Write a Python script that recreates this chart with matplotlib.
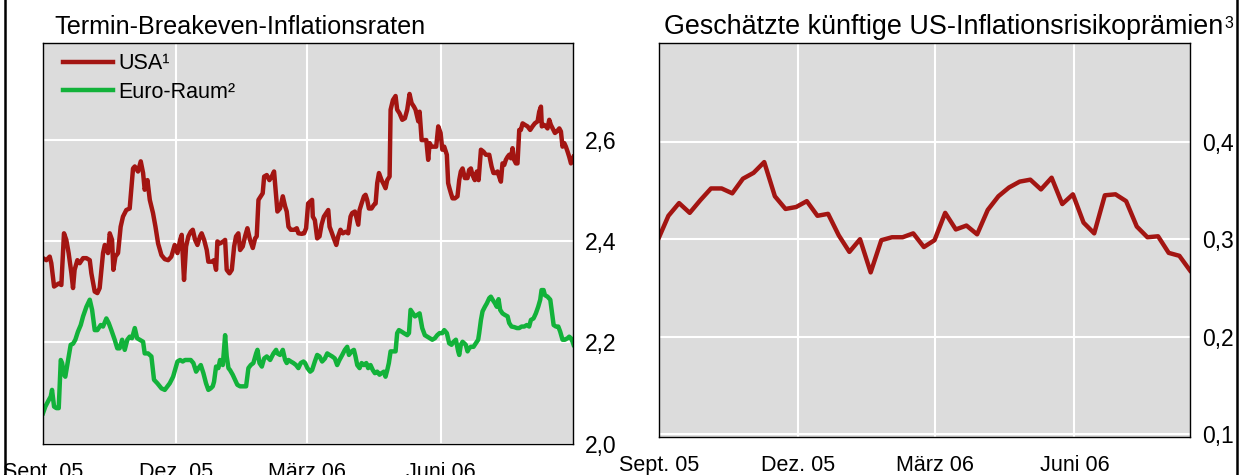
import pandas as pd
import matplotlib
matplotlib.use('Agg')
from matplotlib import pyplot as pl
from matplotlib.lines import Line2D

pl.rcParams['font.family'] = ['Liberation Sans', 'DejaVu Sans']

# Colours of the original
red = '#A31512'
green = '#12B23A'
panel = '#DCDCDC'

start = pd.Timestamp('2005-09-01')

# Left panel: forward breakeven inflation rates, days counted from 1 Sept 2005
usa_days = [
    0, 2.3, 4.6, 5.7, 7.6, 9.2, 10.8, 12.6, 14.4, 16.0, 17.6, 19.5, 20.6,
    21.7, 23.6, 25.2, 27.5, 29.8, 32.1, 33.2, 35.5, 37.3, 38.9, 41.2, 42.4,
    44.6, 45.8, 47.4, 48.3, 49.7, 51.5, 53.3, 54.9, 57.2, 59.5, 61.8, 63.0,
    65.2, 67.1, 68.7, 69.8, 71.7, 73.3, 75.5, 77.2, 79.0, 81.3, 83.6, 85.9,
    88.1, 90.4, 92.3, 94.1,
    95.2, 96.8, 98.2, 99.8, 101.4, 102.8, 104.4, 106.0, 107.8, 108.9, 110.6,
    112.4, 113.5, 115.8, 117.4, 118.8, 119.7, 121.5, 123.8, 125.0, 126.1,
    128.0, 129.6, 131.2, 132.5, 134.1, 135.3, 137.1, 138.7, 140.3, 142.1,
    144.0, 145.6, 146.7, 147.9, 149.5, 150.8, 151.8, 153.6, 155.4, 157.0,
    158.6, 160.0, 160.9, 162.7, 164.6, 166.2, 167.3, 168.5, 170.1, 172.4,
    174.2, 175.3, 177.6, 179.2, 180.6, 182.0, 184.7,
    185.2, 186.6, 188.2, 189.8, 191.2, 192.8, 194.4, 195.8, 196.7, 198.0,
    199.6, 201.3, 202.6, 204.2, 205.8, 207.7, 209.5, 211.1, 212.2, 214.1,
    215.0, 216.4, 217.3, 218.7, 220.3, 221.4, 222.5, 223.7, 225.5, 227.1,
    228.3, 229.4, 230.6, 232.4, 234.0, 235.1, 236.3, 237.9, 238.6, 240.2,
    242.0, 243.1, 244.7, 246.6, 248.4, 250.0, 251.6, 253.0, 254.6, 255.7,
    257.6, 258.5, 259.9, 261.5, 263.1, 264.4, 265.4, 266.7, 268.3, 269.9,
    271.3, 272.9, 274.1, 275.4,
    277.2, 278.1, 279.0, 280.0, 281.1, 282.7, 284.5, 285.7, 286.8, 288.0,
    289.6, 291.4, 292.5, 293.7, 294.8, 296.4, 297.8, 299.0, 300.6, 302.4,
    304.0, 306.3, 307.9, 309.2, 310.9, 312.0, 313.1, 314.3, 315.4, 316.6,
    317.7, 318.9, 320.0, 321.2, 322.3, 323.4, 324.6, 325.7, 326.9, 328.0,
    329.2, 330.8, 332.6, 334.4, 336.0, 337.6, 339.5, 340.6, 341.8, 342.4,
    344.0, 345.2, 346.3, 347.5, 348.6, 349.8, 351.4, 352.7, 354.4, 355.5,
    356.6, 357.8, 358.9, 360.1, 361.2, 362.4, 363.5, 364.2,
]
usa_vals = [
    2.366, 2.362, 2.369, 2.356, 2.310, 2.313, 2.316, 2.313, 2.415, 2.402,
    2.376, 2.336, 2.307, 2.343, 2.362, 2.356, 2.366, 2.366, 2.362, 2.336,
    2.300, 2.297, 2.307, 2.376, 2.392, 2.376, 2.415, 2.402, 2.343, 2.369,
    2.376, 2.428, 2.448, 2.461, 2.464, 2.543, 2.547, 2.537, 2.557, 2.534,
    2.501, 2.520, 2.481, 2.455, 2.428, 2.395, 2.372, 2.364, 2.362, 2.369,
    2.392, 2.376, 2.402,
    2.412, 2.323, 2.389, 2.409, 2.418, 2.422, 2.402, 2.392, 2.409, 2.415,
    2.402, 2.382, 2.359, 2.359, 2.362, 2.343, 2.399, 2.395, 2.399, 2.402,
    2.343, 2.336, 2.343, 2.389, 2.409, 2.415, 2.382, 2.389, 2.409, 2.425,
    2.402, 2.386, 2.405, 2.409, 2.481, 2.488, 2.494, 2.527, 2.530, 2.520,
    2.527, 2.537, 2.488, 2.458, 2.464, 2.488, 2.468, 2.458, 2.428, 2.422,
    2.422, 2.425, 2.415, 2.414, 2.415, 2.425, 2.474, 2.481,
    2.448, 2.441, 2.405, 2.409, 2.432, 2.448, 2.455, 2.461, 2.428, 2.418,
    2.405, 2.392, 2.409, 2.422, 2.415, 2.418, 2.415, 2.448, 2.455, 2.458,
    2.448, 2.432, 2.461, 2.474, 2.488, 2.491, 2.481, 2.464, 2.464, 2.471,
    2.474, 2.514, 2.534, 2.520, 2.511, 2.504, 2.520, 2.527, 2.659, 2.678,
    2.686, 2.659, 2.652, 2.639, 2.642, 2.659, 2.690, 2.672, 2.665, 2.659,
    2.636, 2.655, 2.599, 2.599, 2.599, 2.560, 2.593, 2.586, 2.586, 2.586,
    2.626, 2.613, 2.580, 2.586,
    2.570, 2.514, 2.504, 2.494, 2.484, 2.484, 2.488, 2.520, 2.537, 2.543,
    2.524, 2.524, 2.540, 2.543, 2.530, 2.520, 2.537, 2.520, 2.580, 2.576,
    2.570, 2.570, 2.547, 2.534, 2.534, 2.537, 2.527, 2.517, 2.553, 2.550,
    2.560, 2.566, 2.570, 2.563, 2.583, 2.560, 2.553, 2.553, 2.619, 2.619,
    2.632, 2.629, 2.626, 2.619, 2.626, 2.632, 2.636, 2.655, 2.665, 2.626,
    2.629, 2.626, 2.622, 2.639, 2.629, 2.622, 2.613, 2.616, 2.622, 2.616,
    2.586, 2.593, 2.586, 2.576, 2.566, 2.553, 2.560, 2.566,
]

euro_days = [
    0, 1.6, 3.4, 5.3, 6.2, 7.6, 9.2, 10.8, 12.2, 13.1, 14.4, 15.3, 17.2,
    19.0, 20.6, 22.2, 24.0, 25.9, 27.5, 29.8, 32.1, 33.7, 35.5, 37.3, 39.6,
    41.2, 43.5, 45.1, 46.9, 49.2, 51.0, 52.6, 54.3, 56.1, 57.9, 59.5, 61.1,
    63.0, 64.6, 66.4, 68.7, 69.8, 72.1, 74.4, 76.2, 78.5, 81.3, 83.6, 87.0,
    89.3, 92.3, 94.1,
    95.9, 97.5, 99.1, 101.4, 103.2, 105.1, 106.7, 108.3, 110.1, 111.9, 113.5,
    115.1, 116.5, 117.4, 118.8, 120.4, 121.5, 123.4, 125.0, 126.1, 127.3,
    128.4, 130.2, 131.8, 133.4, 135.3, 137.1, 139.4, 141.0, 142.6, 144.4,
    146.3, 147.2, 148.6, 150.2, 151.8, 153.6, 155.9, 158.2, 160.0, 160.9,
    162.7, 164.6, 166.2, 167.3, 168.5, 170.1, 171.9, 173.7, 175.3, 176.9,
    178.8, 179.9, 181.5, 183.4, 184.7,
    186.6, 188.2, 189.8, 191.6, 193.5, 195.1, 196.7, 198.5, 200.3, 201.9,
    203.5, 205.4, 207.2, 208.8, 210.0, 211.8, 213.4, 214.5, 215.7, 217.3,
    218.7, 220.3, 221.9, 223.2, 224.8, 226.4, 227.8, 229.4, 231.0, 232.4,
    234.0, 235.1, 236.3, 237.4, 238.6, 240.2, 242.0, 243.1, 244.3, 246.1,
    247.7, 250.0, 251.2, 252.3, 253.9, 255.3, 256.9, 258.5, 260.3, 262.1,
    263.8, 265.4, 267.2, 269.0, 270.6, 272.2, 274.1, 275.4,
    277.2, 278.8, 280.4, 281.8, 283.4, 285.0, 285.7, 286.8, 288.0, 289.1,
    290.2, 291.4, 292.5, 293.7, 295.5, 297.1, 298.7, 299.4, 300.6, 301.7,
    303.3, 304.7, 306.3, 307.4, 308.6, 310.2, 311.5, 312.7, 313.8, 315.4,
    317.0, 318.9, 320.0, 321.6, 323.4, 325.3, 326.9, 328.5, 330.3, 332.1,
    333.7, 334.9, 336.7, 338.3, 339.9, 341.3, 342.2, 343.6, 344.5, 346.3,
    348.2, 349.1, 350.5, 352.1, 353.7, 355.0, 356.6, 358.2, 360.1, 361.2,
    362.4, 363.5, 364.2,
]
euro_vals = [
    2.060, 2.073, 2.083, 2.093, 2.106, 2.073, 2.070, 2.070, 2.165, 2.159,
    2.136, 2.132, 2.165, 2.195, 2.197, 2.205, 2.221, 2.234, 2.251, 2.270,
    2.284, 2.264, 2.224, 2.224, 2.234, 2.231, 2.247, 2.238, 2.224, 2.205,
    2.188, 2.188, 2.205, 2.185, 2.205, 2.211, 2.208, 2.228, 2.208, 2.205,
    2.201, 2.178, 2.178, 2.172, 2.126, 2.119, 2.109, 2.106, 2.119, 2.132,
    2.162, 2.165,
    2.162, 2.165, 2.165, 2.165, 2.159, 2.142, 2.149, 2.155, 2.139, 2.119,
    2.106, 2.109, 2.113, 2.122, 2.152, 2.149, 2.165, 2.155, 2.214, 2.172,
    2.149, 2.145, 2.136, 2.126, 2.116, 2.113, 2.113, 2.113, 2.149, 2.155,
    2.159, 2.178, 2.185, 2.159, 2.152, 2.168, 2.172, 2.165, 2.178, 2.185,
    2.178, 2.175, 2.185, 2.165, 2.159, 2.165, 2.162, 2.159, 2.155, 2.149,
    2.159, 2.162, 2.159, 2.149, 2.142, 2.145,
    2.162, 2.175, 2.172, 2.162, 2.168, 2.178, 2.175, 2.172, 2.168, 2.155,
    2.165, 2.175, 2.185, 2.191, 2.175, 2.182, 2.185, 2.172, 2.155, 2.149,
    2.159, 2.155, 2.159, 2.149, 2.155, 2.145, 2.139, 2.142, 2.136, 2.139,
    2.142, 2.132, 2.145, 2.159, 2.182, 2.182, 2.182, 2.218, 2.224, 2.221,
    2.218, 2.214, 2.218, 2.264, 2.257, 2.251, 2.254, 2.257, 2.228, 2.214,
    2.211, 2.208, 2.205, 2.208, 2.214, 2.218, 2.218, 2.224,
    2.218, 2.198, 2.195, 2.201, 2.205, 2.182, 2.175, 2.195, 2.201, 2.198,
    2.195, 2.182, 2.188, 2.191, 2.191, 2.198, 2.205, 2.218, 2.244, 2.261,
    2.270, 2.277, 2.287, 2.290, 2.284, 2.277, 2.270, 2.285, 2.264, 2.257,
    2.254, 2.251, 2.238, 2.231, 2.230, 2.228, 2.228, 2.231, 2.231, 2.234,
    2.231, 2.244, 2.247, 2.257, 2.270, 2.284, 2.303, 2.303, 2.293, 2.290,
    2.284, 2.264, 2.234, 2.231, 2.231, 2.221, 2.205, 2.205, 2.208, 2.211,
    2.208, 2.201, 2.195,
]

# Right panel: estimated US inflation risk premia, weekly from 31 Aug 2005
risk_vals = [
    0.299, 0.324, 0.337, 0.327, 0.340, 0.352, 0.352, 0.347, 0.362, 0.368,
    0.379, 0.344, 0.331, 0.333, 0.339, 0.324, 0.326, 0.304, 0.287, 0.300,
    0.266, 0.299, 0.302, 0.302, 0.306, 0.292, 0.299, 0.327, 0.310, 0.314,
    0.305, 0.330, 0.344, 0.353, 0.359, 0.361, 0.351, 0.363, 0.336, 0.346,
    0.317, 0.306, 0.345, 0.346, 0.339, 0.313, 0.302, 0.303, 0.286, 0.283,
    0.268,
]

tick_dates = ['2005-09-01', '2005-12-01', '2006-03-01', '2006-06-01']
tick_labels = ['Sept. 05', 'Dez. 05', 'März 06', 'Juni 06']

usa_dates = start + pd.to_timedelta(usa_days, unit='D')
euro_dates = start + pd.to_timedelta(euro_days, unit='D')
risk_dates = pd.date_range('2005-08-31', periods=len(risk_vals), freq='7D')

W, H = 1247, 475
fig = pl.figure(figsize=(W/100, H/100), dpi=100)

# Axes placed in pixel terms of the original
ax1 = fig.add_axes([43/W, 1-443.6/H, 530.3/W, 400.3/H])
ax2 = fig.add_axes([659.3/W, 1-436.7/H, 530.7/W, 393.7/H])


def style(ax, yticks, ylabels):
    '''
    Grey panel, white grid, labels on the right and no tick marks.
    '''

    ax.set_facecolor(panel)
    ax.set_axisbelow(True)
    ax.grid(True, color='white', linewidth=1.5)
    ax.yaxis.tick_right()
    ax.set_yticks(yticks)
    ax.set_yticklabels(ylabels)
    ax.set_xticks(pd.to_datetime(tick_dates))
    ax.set_xticklabels(tick_labels)
    ax.tick_params(axis='y', length=0, pad=8.5, labelsize=16.5)
    ax.tick_params(axis='x', length=0, pad=13, labelsize=15.5)
    for sp in ax.spines.values():
        sp.set_color('black')
        sp.set_linewidth(1.0)


ax1.plot(usa_dates, usa_vals, color=red, linewidth=3.2,
         solid_joinstyle='round', label='USA¹')
ax1.plot(euro_dates, euro_vals, color=green, linewidth=3.2,
         solid_joinstyle='round', label='Euro-Raum²')
ax1.set_xlim(start, pd.Timestamp('2006-08-31'))
ax1.set_ylim(2.0, 2.79)
style(ax1, [2.0, 2.2, 2.4, 2.6], ['2,0', '2,2', '2,4', '2,6'])

ax1.legend(loc='upper left', bbox_to_anchor=(0.0377, 0.975), frameon=False,
           fontsize=15.5, handlelength=2.3, handletextpad=0.25,
           borderpad=0, borderaxespad=0, labelspacing=0.35)

ax2.plot(risk_dates, risk_vals, color=red, linewidth=3.2,
         solid_joinstyle='round')
ax2.set_xlim(start, pd.Timestamp('2006-08-16'))
ax2.set_ylim(0.0977, 0.501)
style(ax2, [0.1, 0.2, 0.3, 0.4], ['0,1', '0,2', '0,3', '0,4'])

# Panel titles
fig.text(54/W, 1-34.3/H, 'Termin-Breakeven-Inflationsraten',
         fontsize=18.1, va='baseline', ha='left')
rtitle = fig.text(664/W, 1-34.3/H,
                  'Geschätzte künftige US-Inflationsrisikoprämien',
                  fontsize=19.4, va='baseline', ha='left')

# Footnote mark sits right after the title, raised
pl.annotate('3', xy=(1, 0.93), xycoords=rtitle, xytext=(1, 0),
            textcoords='offset points', fontsize=11.5, va='top', ha='left')

# Outer frame lines at the left and right edge
for xpos in [5/W, 1237/W]:
    fig.add_artist(Line2D([xpos, xpos], [0, 1], color='black',
                          linewidth=1.8, transform=fig.transFigure))

fig.savefig('out.png', dpi=100)
